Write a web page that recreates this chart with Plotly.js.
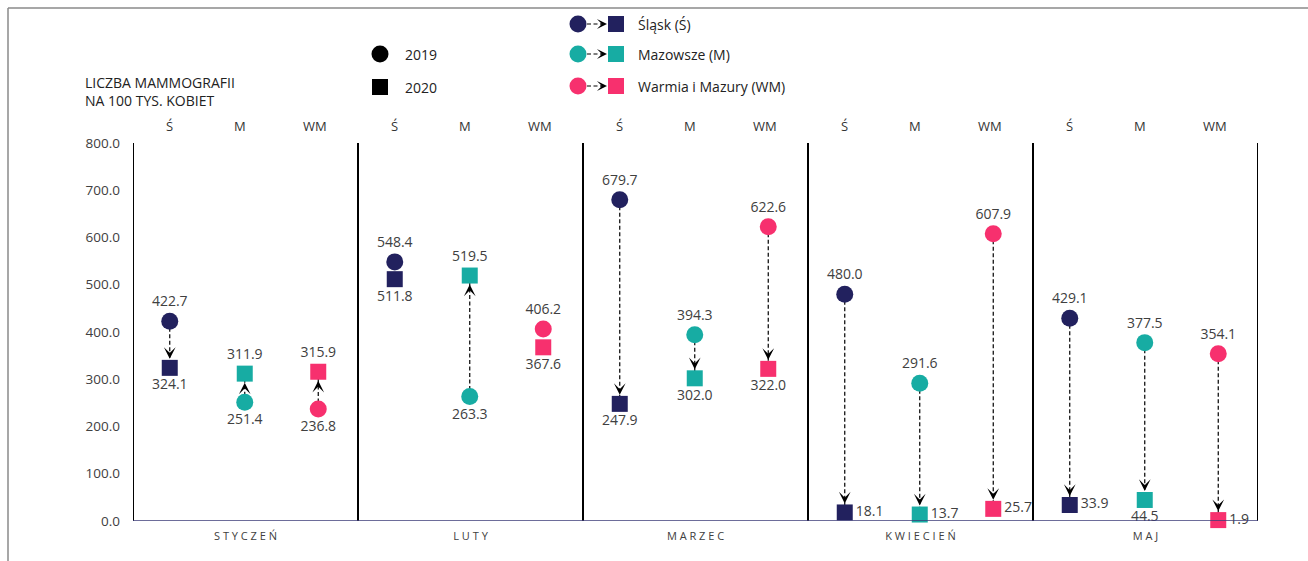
<!DOCTYPE html>
<html>
<head>
<meta charset="utf-8">
<script src="https://cdn.plot.ly/plotly-3.0.1.min.js"></script>
<style>html,body{margin:0;padding:0;background:#fff}#chart{width:1308px;height:561px}</style>
</head>
<body>
<div id="chart"></div>
<script>
// ---- data ----
const months = ['STYCZEŃ', 'LUTY', 'MARZEC', 'KWIECIEŃ', 'MAJ'];
const regionCodes = ['Ś', 'M', 'WM'];
const regionNames = ['Śląsk (Ś)', 'Mazowsze (M)', 'Warmia i Mazury (WM)'];
const slask2019 = [422.7, 548.4, 679.7, 480.0, 429.1];
const slask2020 = [324.1, 511.8, 247.9, 18.1, 33.9];
const mazowsze2019 = [251.4, 263.3, 394.3, 291.6, 377.5];
const mazowsze2020 = [311.9, 519.5, 302.0, 13.7, 44.5];
const wm2019 = [236.8, 406.2, 622.6, 607.9, 354.1];
const wm2020 = [315.9, 367.6, 322.0, 25.7, 1.9];
const yTicks = [0, 100, 200, 300, 400, 500, 600, 700, 800];

// ---- styles ----
const colors = ['#22215e', '#17aca3', '#f7306e'];
const series = [[slask2019, slask2020], [mazowsze2019, mazowsze2020], [wm2019, wm2020]];
const offsets = [0.49, 1.49, 2.47];
const hdrOffsets = [0.49, 1.43, 2.43];
const txtColor = '#404040';
const FONT = 'Open Sans, Liberation Sans, sans-serif';
const DASH = '4px,2.5px';

const traces = [];
const annotations = [];
const shapes = [];

// dashed connector lines
series.forEach((s, r) => {
  months.forEach((m, g) => {
    const a = s[0][g], b = s[1][g];
    if (Math.abs(a - b) > 50) {
      const x = g * 3 + offsets[r];
      traces.push({x: [x, x], y: [a, b], mode: 'lines', xaxis: 'x', yaxis: 'y',
        line: {color: '#000', width: 1.2, dash: DASH}, hoverinfo: 'skip', cliponaxis: false});
      annotations.push({x: x, y: b, xref: 'x', yref: 'y', ax: 0, ay: (b < a ? -26 : 26),
        text: '', showarrow: true, arrowhead: 3, arrowsize: 1.5, arrowwidth: 1.3,
        arrowcolor: '#000', standoff: 9, startstandoff: 12});
    }
  });
});

// markers
series.forEach((s, r) => {
  const xs = months.map((m, g) => g * 3 + offsets[r]);
  const pos19 = months.map((m, g) => s[0][g] >= s[1][g] ? 'top center' : 'bottom center');
  const pos20 = months.map((m, g) => {
    if (s[1][g] > s[0][g]) return 'top center';
    if (s[1][g] < 40) return 'middle right';
    return 'bottom center';
  });
  traces.push({x: xs, y: s[0], mode: 'markers+text', xaxis: 'x', yaxis: 'y',
    marker: {symbol: 'circle', size: 17, color: colors[r]},
    text: s[0].map(v => v.toFixed(1)), textposition: pos19,
    textfont: {family: FONT, size: 14, color: txtColor}, cliponaxis: false, hoverinfo: 'skip'});
  traces.push({x: xs, y: s[1], mode: 'markers+text', xaxis: 'x', yaxis: 'y',
    marker: {symbol: 'square', size: 16, color: colors[r]},
    text: s[1].map(v => v.toFixed(1)), textposition: pos20,
    textfont: {family: FONT, size: 14, color: txtColor}, cliponaxis: false, hoverinfo: 'skip'});
});

// header labels Ś M WM above each group
months.forEach((m, g) => {
  regionCodes.forEach((c, r) => {
    annotations.push({x: g * 3 + hdrOffsets[r], y: 126, xref: 'x', yref: 'y2', text: c,
      showarrow: false, font: {family: FONT, size: 13, color: '#333'}});
  });
});

// group separators
for (let g = 0; g <= months.length; g++) {
  shapes.push({type: 'line', xref: 'x', yref: 'y', x0: g * 3, x1: g * 3, y0: 0, y1: 800,
    line: {color: '#000', width: 2}});
}
// baseline
shapes.push({type: 'line', xref: 'x', yref: 'y', x0: 0, x1: months.length * 3, y0: 0, y1: 0,
  line: {color: '#3d3d78', width: 1.5}});
// frame
shapes.push({type: 'line', xref: 'x2', yref: 'y2', x0: 8, x1: 1308, y0: 8, y1: 8, line: {color: '#8a8a8a', width: 1.5}});
shapes.push({type: 'line', xref: 'x2', yref: 'y2', x0: 8, x1: 8, y0: 8, y1: 561, line: {color: '#8a8a8a', width: 1.5}});

// legend: years
traces.push({x: [380], y: [54], mode: 'markers', xaxis: 'x2', yaxis: 'y2',
  marker: {symbol: 'circle', size: 17, color: '#000'}, hoverinfo: 'skip'});
traces.push({x: [380], y: [87], mode: 'markers', xaxis: 'x2', yaxis: 'y2',
  marker: {symbol: 'square', size: 16, color: '#000'}, hoverinfo: 'skip'});
annotations.push({x: 403, y: 54, xref: 'x2', yref: 'y2', text: '2019', xanchor: 'left', showarrow: false,
  font: {family: FONT, size: 14, color: '#222'}});
annotations.push({x: 403, y: 87, xref: 'x2', yref: 'y2', text: '2020', xanchor: 'left', showarrow: false,
  font: {family: FONT, size: 14, color: '#222'}});

// legend: regions
const legY = [24, 54, 86];
regionNames.forEach((n, r) => {
  const y = legY[r];
  traces.push({x: [587, 602], y: [y, y], mode: 'lines', xaxis: 'x2', yaxis: 'y2',
    line: {color: '#000', width: 1.2, dash: DASH}, hoverinfo: 'skip'});
  annotations.push({x: 607, y: y, xref: 'x2', yref: 'y2', ax: -8, ay: 0, text: '', showarrow: true,
    arrowhead: 3, arrowsize: 1.4, arrowwidth: 1.2, arrowcolor: '#000', standoff: 0});
  traces.push({x: [578], y: [y], mode: 'markers', xaxis: 'x2', yaxis: 'y2',
    marker: {symbol: 'circle', size: 17, color: colors[r]}, hoverinfo: 'skip'});
  traces.push({x: [616], y: [y], mode: 'markers', xaxis: 'x2', yaxis: 'y2',
    marker: {symbol: 'square', size: 16, color: colors[r]}, hoverinfo: 'skip'});
  annotations.push({x: 636, y: y, xref: 'x2', yref: 'y2', text: n, xanchor: 'left', showarrow: false,
    font: {family: FONT, size: 14, color: '#222'}});
});

// axis title text
annotations.push({x: 83, y: 82, xref: 'x2', yref: 'y2', text: 'LICZBA MAMMOGRAFII', xanchor: 'left', showarrow: false,
  font: {family: FONT, size: 14, color: '#222'}});
annotations.push({x: 83, y: 100, xref: 'x2', yref: 'y2', text: 'NA 100 TYS. KOBIET', xanchor: 'left', showarrow: false,
  font: {family: FONT, size: 14, color: '#222'}});

const W = 1308, H = 561;
const layout = {
  width: W, height: H,
  margin: {l: 0, r: 0, t: 0, b: 0},
  paper_bgcolor: '#fff', plot_bgcolor: 'rgba(0,0,0,0)',
  showlegend: false,
  xaxis: {domain: [133 / W, 1258 / W], range: [0, months.length * 3], showgrid: false, zeroline: false,
    showline: false, tickvals: months.map((m, g) => g * 3 + 1.5),
    ticktext: months.map(m => m.split('').join(' ')), ticks: '', ticklabelstandoff: 7,
    tickfont: {family: FONT, size: 11, color: txtColor}, fixedrange: true},
  yaxis: {domain: [1 - 521 / H, 1 - 143 / H], range: [0, 800], showgrid: false, zeroline: false,
    showline: false, tickvals: yTicks, tickformat: '.1f', ticks: '', ticklabelstandoff: 12,
    tickfont: {family: FONT, size: 13.5, color: txtColor}, fixedrange: true},
  xaxis2: {domain: [0, 1], range: [0, W], visible: false, anchor: 'y2', fixedrange: true},
  yaxis2: {domain: [0, 1], range: [H, 0], visible: false, anchor: 'x2', fixedrange: true},
  shapes: shapes,
  annotations: annotations
};

Plotly.newPlot('chart', traces, layout, {displayModeBar: false, staticPlot: true});
</script>
</body>
</html>
